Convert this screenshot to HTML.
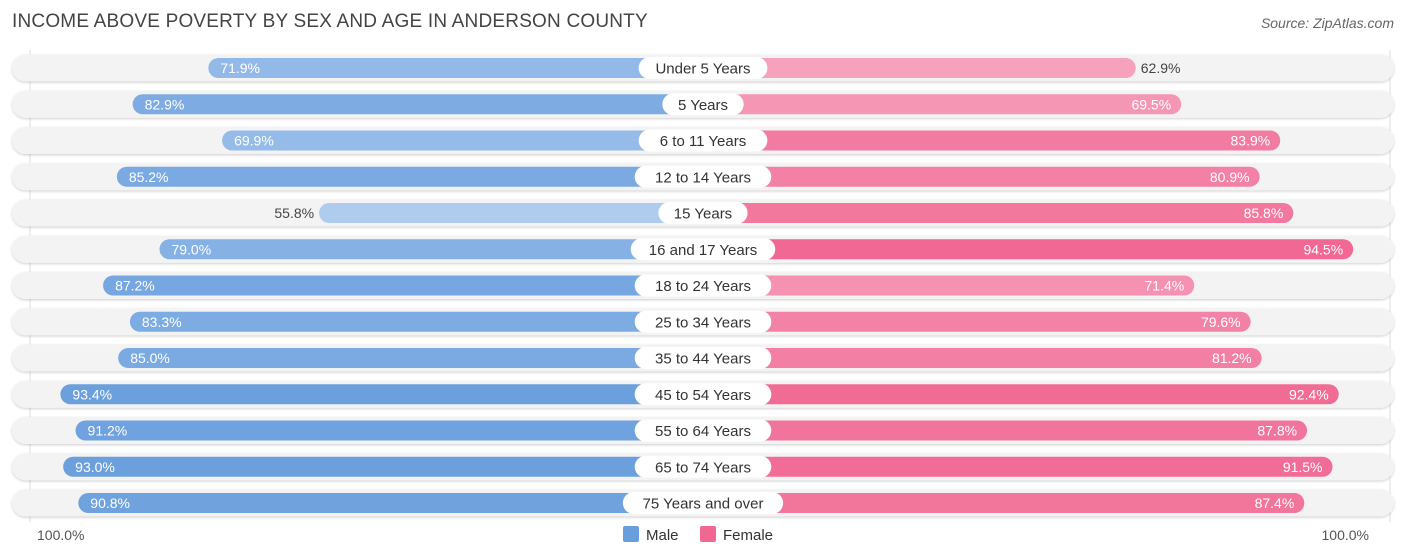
<!DOCTYPE html>
<html><head><meta charset="utf-8"><style>
body{margin:0;background:#fff;font-family:"Liberation Sans",sans-serif;}
#wrap{position:relative;width:1406px;height:559px;overflow:hidden;}
.title{position:absolute;left:12px;top:11px;font-size:19px;color:#444;letter-spacing:0.2px}
.src{position:absolute;right:12px;top:15px;font-size:14px;color:#666;font-style:italic}
</style></head><body>
<div id="wrap">
<div class="title">INCOME ABOVE POVERTY BY SEX AND AGE IN ANDERSON COUNTY</div>
<div class="src">Source: ZipAtlas.com</div>
<svg id="svg" width="1406" height="559" style="position:absolute;left:0;top:0"></svg>
</div>
<script>
const categories=["Under 5 Years","5 Years","6 to 11 Years","12 to 14 Years","15 Years","16 and 17 Years","18 to 24 Years","25 to 34 Years","35 to 44 Years","45 to 54 Years","55 to 64 Years","65 to 74 Years","75 Years and over"];
const maleValues=[71.9,82.9,69.9,85.2,55.8,79.0,87.2,83.3,85.0,93.4,91.2,93.0,90.8];
const femaleValues=[62.9,69.5,83.9,80.9,85.8,94.5,71.4,79.6,81.2,92.4,87.8,91.5,87.4];
const axisLabels=["100.0%","100.0%"];
const svg=document.getElementById('svg');
const NS="http://www.w3.org/2000/svg";
const cx=703,scale=6.88,y0=68,step=36.25;
function x(v,side){return cx+side*v*scale;}
function yc(i){return y0+i*step;}
function mix(a,b,t){return 'rgb('+a.map((c,k)=>Math.round(c+(b[k]-c)*t)).join(',')+')';}
function tt(v){return Math.max(0,Math.min(1,(v-55)/(95-55)));}
function el(tag,attrs){const e=document.createElementNS(NS,tag);for(const k in attrs)e.setAttribute(k,attrs[k]);svg.appendChild(e);return e;}
const defs=el('defs',{});
defs.innerHTML='<filter id="sh" x="-5%" y="-30%" width="110%" height="160%"><feDropShadow dx="0" dy="1" stdDeviation="1.2" flood-color="#000" flood-opacity="0.2"/></filter>';
let g1=el('line',{x1:30,x2:30,y1:50,y2:522,stroke:'#ddd'});


let g2=el('line',{x1:1390,x2:1390,y1:50,y2:522,stroke:'#ddd'});


categories.forEach((c,i)=>{
  const y=yc(i);
  const bg=el('rect',{x:12,y:y-13.5,width:1382,height:27,rx:13.5,fill:'#f3f3f3',filter:'url(#sh)'});
  
  
  const mv=maleValues[i],fv=femaleValues[i];
  const mx=x(mv,-1);
  const mb=el('rect',{x:mx,y:y-10,width:cx-mx,height:20,rx:10,fill:mix([176,205,239],[104,158,220],tt(mv))});
  
  
  const fx=x(fv,1);
  const fb=el('rect',{x:cx,y:y-10,width:fx-cx,height:20,rx:10,fill:mix([248,176,199],[240,103,146],tt(fv))});
  
  
  const inside=mv>=65;
  const ml=el('text',{x:inside?mx+12:mx-5,y:y+5,'font-size':14,fill:inside?'#fff':'#444','text-anchor':inside?'start':'end'});
  ml.textContent=mv.toFixed(1)+'%';
  
  
  const fin=fv>=65;
  const fl=el('text',{x:fin?fx-10:fx+5,y:y+5,'font-size':14,fill:fin?'#fff':'#444','text-anchor':fin?'end':'start'});
  fl.textContent=fv.toFixed(1)+'%';
  
  
  const tw=c.length*7.9+26;
  const pill=el('rect',{x:cx-tw/2,y:y-11,width:tw,height:22,rx:11,fill:'#fff'});
  
  
  const cl=el('text',{x:cx,y:y+5.5,'font-size':15,fill:'#333','text-anchor':'middle'});
  cl.textContent=c;
  
  
});
const a1=el('text',{x:37,y:540,'font-size':14,fill:'#555'});a1.textContent=axisLabels[0];


const a2=el('text',{x:1369,y:540,'font-size':14,fill:'#555','text-anchor':'end'});a2.textContent=axisLabels[1];


const lm=el('rect',{x:623,y:526,width:16,height:16,rx:2,fill:'#689edc'});


const lmt=el('text',{x:646,y:540,'font-size':15,fill:'#333'});lmt.textContent='Male';


const lf=el('rect',{x:700,y:526,width:16,height:16,rx:2,fill:'#f06792'});


const lft=el('text',{x:723,y:540,'font-size':15,fill:'#333'});lft.textContent='Female';


</script>
</body></html>
